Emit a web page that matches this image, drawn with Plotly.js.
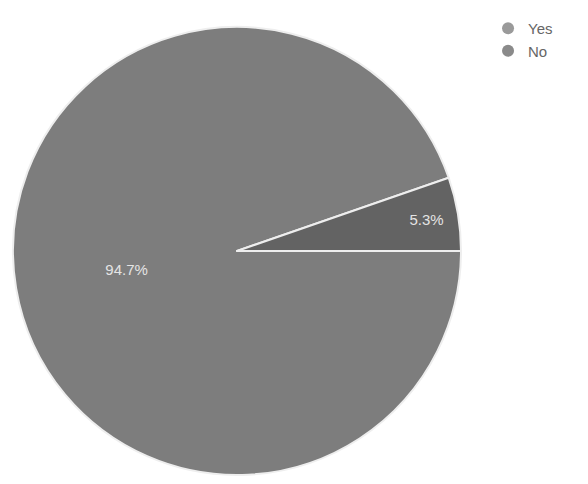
<!DOCTYPE html>
<html>
<head>
<meta charset="utf-8">
<script src="https://cdn.plot.ly/plotly-3.0.1.min.js"></script>
<style>html,body{margin:0;padding:0;background:#fff;}#chart{width:588px;height:484px;}</style>
</head>
<body>
<div id="chart"></div>
<script>
const categories = ["Yes", "No"];
const values = [5.3, 94.7];
const sliceColors = ["#636363", "#7d7d7d"];
const legendColors = ["#9a9a9a", "#8a8a8a"];

// drawn clockwise from 3 o'clock in reverse order so "Yes" sits just above 3 o'clock
const order = [1, 0];
const pie = {
  type: "pie",
  labels: order.map(i => categories[i]),
  values: order.map(i => values[i]),
  sort: false,
  direction: "clockwise",
  rotation: 90,
  marker: {colors: order.map(i => sliceColors[i]), line: {color: "#eeeeee", width: 2}},
  textinfo: "percent",
  texttemplate: "%{percent:.1%}",
  textposition: "inside",
  insidetextorientation: "horizontal",
  textfont: {family: "Liberation Sans, Arial, sans-serif", size: 15, color: "#e4e4e4"},
  domain: {x: [13/588, 461/588], y: [1 - 476/484, 1 - 26/484]},
  showlegend: false,
  hoverinfo: "label+percent"
};

const legendTraces = categories.map((c, i) => ({
  type: "scatter",
  mode: "markers",
  x: [null], y: [null],
  name: c,
  marker: {symbol: "circle", size: 13, color: legendColors[i]},
  showlegend: true,
  hoverinfo: "skip"
}));

const layout = {
  width: 588, height: 484,
  margin: {l: 0, r: 0, t: 0, b: 0},
  paper_bgcolor: "#ffffff",
  plot_bgcolor: "#ffffff",
  xaxis: {visible: false, domain: [0.9, 1]},
  yaxis: {visible: false, domain: [0.9, 1]},
  showlegend: true,
  legend: {
    x: 0.83, y: 0.975, xanchor: "left", yanchor: "top",
    font: {family: "Liberation Sans, Arial, sans-serif", size: 15, color: "#666666"},
    itemsizing: "constant",
    tracegroupgap: 0,
    bgcolor: "rgba(0,0,0,0)"
  }
};

Plotly.newPlot("chart", [pie].concat(legendTraces), layout, {displayModeBar: false, staticPlot: true});
</script>
</body>
</html>
